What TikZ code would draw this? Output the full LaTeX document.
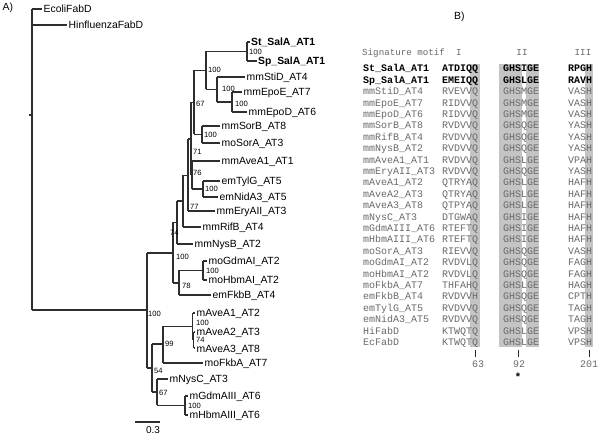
\documentclass[tikz,border=0pt]{standalone}
\usepackage{fontspec}
\setmainfont{Liberation Sans}
\setmonofont{Liberation Mono}
\definecolor{shd}{RGB}{196,196,196}
\definecolor{txtg}{RGB}{105,105,105}
\tikzset{
  tree/.style={line width=1.1pt, draw=black!82},
  tip/.style={anchor=west, inner sep=0pt, text height=7.4pt, text depth=0pt, font=\fontsize{10.4}{12}\selectfont},
  bs/.style={anchor=west, inner sep=0pt, text height=5.4pt, text depth=0pt, font=\fontsize{7.6}{9}\selectfont},
  seq/.style={anchor=west, inner sep=0pt, text height=5.8pt, text depth=0pt, font=\ttfamily\fontsize{10}{12}\selectfont, text=txtg},
  bseq/.style={seq, font=\ttfamily\bfseries\fontsize{10}{12}\selectfont, text=black},
  hdr/.style={anchor=center, inner sep=0pt, text height=5.4pt, text depth=0pt, font=\ttfamily\fontsize{9.2}{11}\selectfont, text=txtg},
  num/.style={anchor=center, inner sep=0pt, text height=5.8pt, text depth=0pt, font=\ttfamily\fontsize{10}{12}\selectfont, text=txtg}
}
\begin{document}
\begin{tikzpicture}[x=1pt,y=-1pt]
\useasboundingbox (0,0) rectangle (600,435);
% ---------------- panel labels
\node[tip, anchor=west] (pA) at (2.5,7) {A)};
\node[tip, anchor=west] (pB) at (454,16) {B)};
% ---------------- tree
% root
\draw[tree] (32,9) -- (32,310);
\draw[tree] (29,115) -- (32,115);
\draw[tree] (32,9) -- (42,9);
\draw[tree] (32,25) -- (67,25);
\draw[tree] (32,310) -- (147,310);
\draw[tree] (147,253) -- (147,368);
\draw[tree] (147,253) -- (173,253);
\draw[tree] (147,368) -- (152,368);
% upper clade
\draw[tree] (173,222.5) -- (173,283);
\draw[tree] (173,222.5) -- (177,222.5);
\draw[tree] (173,283) -- (179,283);
\draw[tree] (177,201) -- (177,244);
\draw[tree] (177,201) -- (183,201);
\draw[tree] (177,244) -- (193,244);
\draw[tree] (183,175.5) -- (183,227);
\draw[tree] (183,175.5) -- (188,175.5);
\draw[tree] (183,227) -- (201,227);
\draw[tree] (188,139) -- (188,211);
\draw[tree] (188,139) -- (191,139);
\draw[tree] (188,211) -- (215,211);
\draw[tree] (191,102.5) -- (191,175);
\draw[tree] (191,102.5) -- (194,102.5);
\draw[tree] (191,175) -- (192,175);
\draw[tree] (192,161) -- (192,189);
\draw[tree] (192,161) -- (220,161);
\draw[tree] (192,189) -- (203,189);
\draw[tree] (203,181) -- (203,197);
\draw[tree] (203,181) -- (220,181);
\draw[tree] (203,197) -- (218,197);
\draw[tree] (194,70.5) -- (194,134.5);
\draw[tree] (194,70.5) -- (206,70.5);
\draw[tree] (194,134.5) -- (202,134.5);
\draw[tree] (202,126) -- (202,143);
\draw[tree] (202,126) -- (220,126);
\draw[tree] (202,143) -- (220,143);
\draw[tree] (206,51.5) -- (206,89.5);
\draw[tree] (206,51.5) -- (247,51.5);
\draw[tree] (206,89.5) -- (217,89.5);
\draw[tree] (247,42) -- (247,61);
\draw[tree] (247,42) -- (250,42);
\draw[tree] (247,61) -- (257,61);
\draw[tree] (217,77) -- (217,102);
\draw[tree] (217,77) -- (245,77);
\draw[tree] (217,102) -- (232,102);
\draw[tree] (232,92) -- (232,112);
\draw[tree] (232,92) -- (242,92);
\draw[tree] (232,112) -- (247,112);
\draw[tree] (179,270.5) -- (179,295);
\draw[tree] (179,270.5) -- (203,270.5);
\draw[tree] (179,295) -- (211,295);
\draw[tree] (203,261) -- (203,280);
\draw[tree] (203,261) -- (207,261);
\draw[tree] (203,280) -- (207,280);
% lower clade
\draw[tree] (152,344) -- (152,392);
\draw[tree] (152,344) -- (163,344);
\draw[tree] (152,392) -- (157,392);
\draw[tree] (163,326.5) -- (163,363);
\draw[tree] (163,326.5) -- (192.5,326.5);
\draw[tree] (163,363) -- (203,363);
\draw[tree] (192.5,313) -- (192.5,340);
\draw[tree] (192.5,313) -- (195,313);
\draw[tree] (192.5,340) -- (193.5,340);
\draw[tree] (193.5,332) -- (193.5,348);
\draw[tree] (193.5,332) -- (195,332);
\draw[tree] (193.5,348) -- (195,348);
\draw[tree] (157,379) -- (157,405.5);
\draw[tree] (157,379) -- (168,379);
\draw[tree] (157,405.5) -- (185,405.5);
\draw[tree] (185,396) -- (185,415);
\draw[tree] (185,396) -- (188,396);
\draw[tree] (185,415) -- (188,415);
% scale bar
\draw[tree] (135,422) -- (160,422);
\node[bs, anchor=center, font=\fontsize{10}{12}\selectfont, text height=7pt] (sc) at (153,430) {0.3};
% tip labels
\node[tip] (l1) at (43.5,9) {EcoliFabD};
\node[tip] (l2) at (68.5,25) {HinfluenzaFabD};
\node[tip, font=\bfseries\fontsize{10.4}{12}\selectfont] (l3) at (251,42) {St\_SalA\_AT1};
\node[tip, font=\bfseries\fontsize{10.4}{12}\selectfont] (l4) at (258,61) {Sp\_SalA\_AT1};
\node[tip] (l5) at (246.5,77) {mmStiD\_AT4};
\node[tip] (l6) at (243.5,92) {mmEpoE\_AT7};
\node[tip] (l7) at (248.5,112) {mmEpoD\_AT6};
\node[tip] (l8) at (221.5,126) {mmSorB\_AT8};
\node[tip] (l9) at (221.5,143) {moSorA\_AT3};
\node[tip] (l10) at (221.5,161) {mmAveA1\_AT1};
\node[tip] (l11) at (221.5,181) {emTylG\_AT5};
\node[tip] (l12) at (219.5,197) {emNidA3\_AT5};
\node[tip] (l13) at (216.5,211) {mmEryAII\_AT3};
\node[tip] (l14) at (202.5,227) {mmRifB\_AT4};
\node[tip] (l15) at (194.5,244) {mmNysB\_AT2};
\node[tip] (l16) at (208.5,261) {moGdmAI\_AT2};
\node[tip] (l17) at (208.5,280) {moHbmAI\_AT2};
\node[tip] (l18) at (212.5,295) {emFkbB\_AT4};
\node[tip] (l19) at (196.5,313) {mAveA1\_AT2};
\node[tip] (l20) at (196.5,332) {mAveA2\_AT3};
\node[tip] (l21) at (196.5,349) {mAveA3\_AT8};
\node[tip] (l22) at (204.5,363) {moFkbA\_AT7};
\node[tip] (l23) at (169.5,379) {mNysC\_AT3};
\node[tip] (l24) at (189.5,396) {mGdmAIII\_AT6};
\node[tip] (l25) at (189.5,415) {mHbmAIII\_AT6};
% bootstrap values
\node[bs] (b1) at (249,52) {100};
\node[bs] (b2) at (208,70) {100};
\node[bs] (b3) at (222,89) {100};
\node[bs] (b4) at (235,104) {100};
\node[bs] (b5) at (196,104) {67};
\node[bs] (b6) at (204,135) {100};
\node[bs] (b7) at (193,152) {71};
\node[bs] (b8) at (193,173) {76};
\node[bs] (b9) at (205,189) {100};
\node[bs] (b10) at (190,207) {77};
\node[bs] (b11) at (170,233) {74};
\node[bs] (b12) at (176,257) {100};
\node[bs] (b13) at (206,271) {100};
\node[bs] (b14) at (182,286) {78};
\node[bs] (b15) at (148,314) {100};
\node[bs] (b16) at (196,323) {100};
\node[bs] (b17) at (196,340) {74};
\node[bs] (b18) at (165,344) {99};
\node[bs] (b19) at (154,371) {54};
\node[bs] (b20) at (159,393) {67};
\node[bs] (b21) at (188,406) {100};
% ---------------- alignment
\fill[shd] (470,64) rectangle (480,347);
\fill[shd] (499,64) rectangle (522,347);
\fill[shd] (525.5,64) rectangle (539,347);
\fill[shd] (584.5,64) rectangle (593,347);
\node[hdr, anchor=west] (hd) at (362,53) {Signature motif};
\node[hdr] (h1) at (459,53) {I};
\node[hdr] (h2) at (522,53) {II};
\node[hdr] (h3) at (583,53) {III};
\node[bseq] (n0) at (363,69) {St\_SalA\_AT1};
\node[bseq] (a0) at (442,69) {ATDIQQ};
\node[bseq] (c0) at (503,69) {GHSIGE};
\node[bseq] (d0) at (568,69) {RPGH};
\node[bseq] (n1) at (363,80.4) {Sp\_SalA\_AT1};
\node[bseq] (a1) at (442,80.4) {EMEIQQ};
\node[bseq] (c1) at (503,80.4) {GHSLGE};
\node[bseq] (d1) at (568,80.4) {RAVH};
\foreach \nm/\sa/\sb/\sc [count=\i from 2] in {
  mmStiD\_AT4/RVEVVQ/GHSMGE/VASH,
  mmEpoE\_AT7/RIDVVQ/GHSMGE/VASH,
  mmEpoD\_AT6/RIDVVQ/GHSMGE/VASH,
  mmSorB\_AT8/RVDVVQ/GHSQGE/YASH,
  mmRifB\_AT4/RVDVVQ/GHSQGE/YASH,
  mmNysB\_AT2/RVDVVQ/GHSQGE/YASH,
  mmAveA1\_AT1/RVDVVQ/GHSLGE/VPAH,
  mmEryAII\_AT3/RVDVVQ/GHSQGE/YASH,
  mAveA1\_AT2/QTRYAQ/GHSLGE/HAFH,
  mAveA2\_AT3/QTRYAQ/GHSLGE/HAFH,
  mAveA3\_AT8/QTPYAQ/GHSLGE/HAFH,
  mNysC\_AT3/DTGWAQ/GHSIGE/HAFH,
  mGdmAIII\_AT6/RTEFTQ/GHSIGE/HAFH,
  mHbmAIII\_AT6/RTEFTQ/GHSIGE/HAFH,
  moSorA\_AT3/RIEVVQ/GHSQGE/VASH,
  moGdmAI\_AT2/RVDVLQ/GHSQGE/FAGH,
  moHbmAI\_AT2/RVDVLQ/GHSQGE/FAGH,
  moFkbA\_AT7/THFAHQ/GHSLGE/HAGH,
  emFkbB\_AT4/RVDVVH/GHSQGE/CPTH,
  emTylG\_AT5/RVDVVQ/GHSQGE/TAGH,
  emNidA3\_AT5/RVDVVQ/GHSQGE/TAGH,
  HiFabD/KTWQTQ/GHSLGE/VPSH,
  EcFabD/KTWQTQ/GHSLGE/VPSH} {
  \node[seq] (n\i) at (363,{69+11.4*\i}) {\nm};
  \node[seq] (a\i) at (442,{69+11.4*\i}) {\sa};
  \node[seq] (c\i) at (503,{69+11.4*\i}) {\sb};
  \node[seq] (d\i) at (568,{69+11.4*\i}) {\sc};
}
% position ticks
\draw[line width=1pt, black!85] (475,350) -- (475,357);
\draw[line width=1pt, black!85] (518,350) -- (518,357);
\draw[line width=1pt, black!85] (589,350) -- (589,357);
\node[num] (p1) at (478,365) {63};
\node[num] (p2) at (519,365) {92};
\node[num] (p3) at (589,365) {201};
\node[anchor=center, inner sep=0pt, font=\bfseries\fontsize{11}{12}\selectfont] (st) at (518,377) {*};
\end{tikzpicture}
\end{document}
